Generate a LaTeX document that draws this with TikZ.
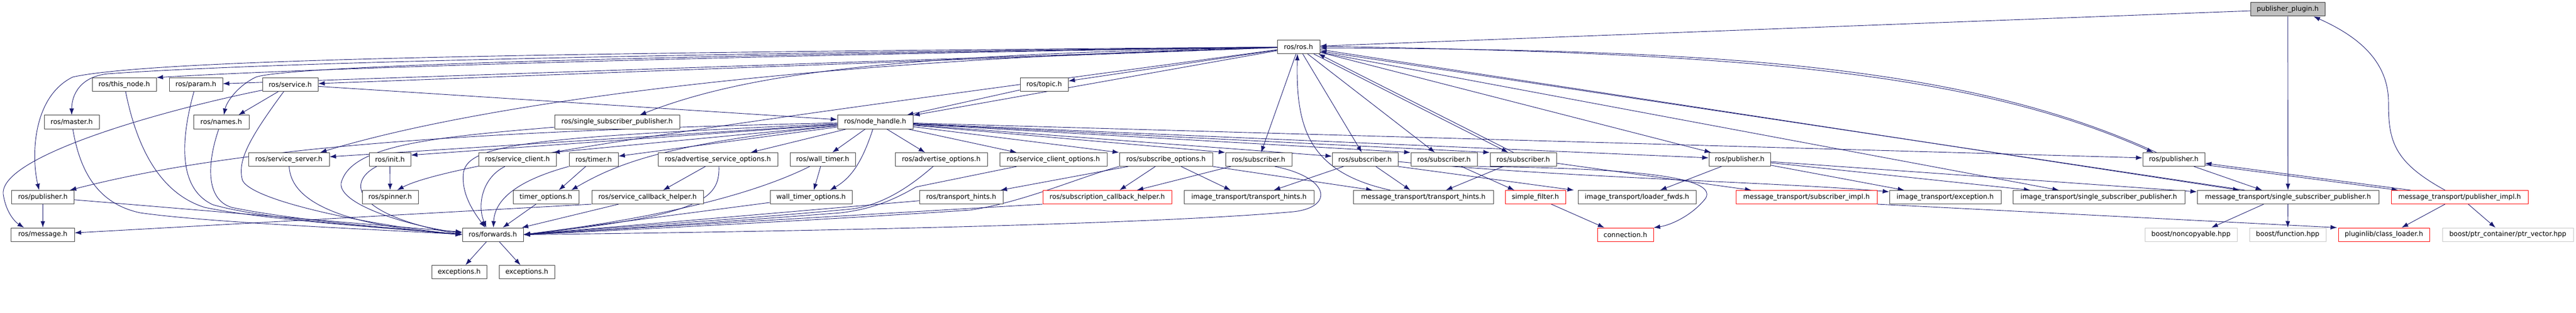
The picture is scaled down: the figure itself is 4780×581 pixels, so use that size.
\documentclass[tikz,border=0pt]{standalone}
\usepackage{fontspec}
\setmainfont{DejaVu Sans}
\usetikzlibrary{arrows.meta}
\definecolor{edgeblue}{HTML}{191970}
\definecolor{boxgray}{HTML}{BFBFBF}
\pgfdeclarelayer{edges}
\pgfsetlayers{edges,main}
\tikzset{
  incl/.style={draw=black!75, fill=white, line width=1bp, minimum height=25bp, inner sep=0pt, font=\fontsize{12.5bp}{15bp}\selectfont},
  broken/.style={incl, draw=red},
  extern/.style={incl, draw=black!22},
  root/.style={incl, draw=black!80, fill=boxgray},
  dep/.style={->, draw=edgeblue, line width=0.9bp},
}
\begin{document}
\begin{tikzpicture}[x=1bp,y=-1bp,>={Latex[length=12bp,width=8.5bp]},line join=bevel]
\useasboundingbox (0,0) rectangle (4780,581);
%% nodes
% Node: plugin
\node[root, minimum width=138bp] (plugin) at (4245,17.5) {publisher\_plugin.h};
% Node: ros
\node[incl, minimum width=79bp] (ros) at (2409.5,87) {ros/ros.h};
% Node: thisnode
\node[incl, minimum width=119bp] (thisnode) at (230.5,157) {ros/this\_node.h};
% Node: param
\node[incl, minimum width=99bp] (param) at (363.5,157) {ros/param.h};
% Node: service
\node[incl, minimum width=103bp] (service) at (538.5,157) {ros/service.h};
% Node: topic
\node[incl, minimum width=89bp] (topic) at (1937.5,157) {ros/topic.h};
% Node: master
\node[incl, minimum width=102bp] (master) at (133,226.5) {ros/master.h};
% Node: names
\node[incl, minimum width=103bp] (names) at (410.5,226.5) {ros/names.h};
% Node: sspros
\node[incl, minimum width=232bp] (sspros) at (1145,226.5) {ros/single\_subscriber\_publisher.h};
% Node: nodehandle
\node[incl, minimum width=140bp] (nodehandle) at (1624,226.5) {ros/node\_handle.h};
% Node: srvserver
\node[incl, minimum width=150bp] (srvserver) at (536,296) {ros/service\_server.h};
% Node: init
\node[incl, minimum width=77bp] (init) at (723.5,296) {ros/init.h};
% Node: srvclient
\node[incl, minimum width=144bp] (srvclient) at (960,296) {ros/service\_client.h};
% Node: timer
\node[incl, minimum width=91bp] (timer) at (1101.5,296) {ros/timer.h};
% Node: advsrvopt
\node[incl, minimum width=222bp] (advsrvopt) at (1332,296) {ros/advertise\_service\_options.h};
% Node: walltimer
\node[incl, minimum width=121bp] (walltimer) at (1526.5,296) {ros/wall\_timer.h};
% Node: advopt
\node[incl, minimum width=171bp] (advopt) at (1746.5,296) {ros/advertise\_options.h};
% Node: srvclientopt
\node[incl, minimum width=199bp] (srvclientopt) at (1954.5,296) {ros/service\_client\_options.h};
% Node: subopt
\node[incl, minimum width=173bp] (subopt) at (2163.5,296) {ros/subscribe\_options.h};
% Node: subA
\node[incl, minimum width=123bp] (subA) at (2335.5,296) {ros/subscriber.h};
% Node: subB
\node[incl, minimum width=122bp] (subB) at (2533,296) {ros/subscriber.h};
% Node: subC
\node[incl, minimum width=123bp] (subC) at (2679.5,296) {ros/subscriber.h};
% Node: subD
\node[incl, minimum width=123bp] (subD) at (2826.5,296) {ros/subscriber.h};
% Node: pubB
\node[incl, minimum width=114bp] (pubB) at (3228,296) {ros/publisher.h};
% Node: pubC
\node[incl, minimum width=115bp] (pubC) at (4033.5,296) {ros/publisher.h};
% Node: pubA
\node[incl, minimum width=115bp] (pubA) at (79.5,366) {ros/publisher.h};
% Node: spinner
\node[incl, minimum width=104bp] (spinner) at (724,366) {ros/spinner.h};
% Node: timeropt
\node[incl, minimum width=122bp] (timeropt) at (1013,366) {timer\_options.h};
% Node: srvcbhelper
\node[incl, minimum width=207bp] (srvcbhelper) at (1201.5,366) {ros/service\_callback\_helper.h};
% Node: walltimeropt
\node[incl, minimum width=152bp] (walltimeropt) at (1505,366) {wall\_timer\_options.h};
% Node: transhints
\node[incl, minimum width=155bp] (transhints) at (1783.5,366) {ros/transport\_hints.h};
% Node: subcbhelper
\node[broken, minimum width=239bp] (subcbhelper) at (2054.5,366) {ros/subscription\_callback\_helper.h};
% Node: ithints
\node[incl, minimum width=241bp] (ithints) at (2317.5,366) {image\_transport/transport\_hints.h};
% Node: mthints
\node[incl, minimum width=260bp] (mthints) at (2641,366) {message\_transport/transport\_hints.h};
% Node: simplefilter
\node[broken, minimum width=112bp] (simplefilter) at (2849,366) {simple\_filter.h};
% Node: loaderfwds
\node[incl, minimum width=219bp] (loaderfwds) at (3037.5,366) {image\_transport/loader\_fwds.h};
% Node: subimpl
\node[broken, minimum width=262bp] (subimpl) at (3352,366) {message\_transport/subscriber\_impl.h};
% Node: itexc
\node[incl, minimum width=207bp] (itexc) at (3609.5,366) {image\_transport/exception.h};
% Node: itssp
\node[incl, minimum width=319bp] (itssp) at (3894.5,366) {image\_transport/single\_subscriber\_publisher.h};
% Node: mtssp
\node[incl, minimum width=337bp] (mtssp) at (4245.5,366) {message\_transport/single\_subscriber\_publisher.h};
% Node: pubimpl
\node[broken, minimum width=254bp] (pubimpl) at (4564,366) {message\_transport/publisher\_impl.h};
% Node: message
\node[incl, minimum width=117bp] (message) at (79.5,435.5) {ros/message.h};
% Node: forwards
\node[incl, minimum width=113bp] (forwards) at (914.5,435.5) {ros/forwards.h};
% Node: connection
\node[broken, minimum width=104bp] (connection) at (3016,435.5) {connection.h};
% Node: noncopy
\node[extern, minimum width=171bp] (noncopy) at (4065.5,435.5) {boost/noncopyable.hpp};
% Node: function
\node[extern, minimum width=142bp] (function) at (4245,435.5) {boost/function.hpp};
% Node: classloader
\node[broken, minimum width=169bp] (classloader) at (4423.5,435.5) {pluginlib/class\_loader.h};
% Node: ptrvec
\node[extern, minimum width=243bp] (ptrvec) at (4653.5,435.5) {boost/ptr\_container/ptr\_vector.hpp};
% Node: excA
\node[incl, minimum width=102bp] (excA) at (852,505) {exceptions.h};
% Node: excB
\node[incl, minimum width=103bp] (excB) at (977.5,505) {exceptions.h};
%% edges
\begin{pgfonlayer}{edges}
% Edge: plugin -> ros
\draw[dep] (plugin) -- (ros);
% Edge: plugin -> mtssp
\draw[dep] (plugin) -- (mtssp);
% Edge: pubimpl -> plugin
\draw[dep] ([xshift=-27bp]pubimpl.north) .. controls (4440,300) and (4432,260) .. (4432,190) .. controls (4432,110) and (4370,65) .. ([xshift=48bp]plugin.south);
% Edge: ros -> thisnode
\draw[dep] (ros) .. controls (1500,100) and (600,125) .. (thisnode.north east);
% Edge: ros -> param
\draw[dep] (ros) -- (param);
% Edge: ros -> master
\draw[dep] (ros) .. controls (1200,100) and (500,116) .. (200,137) .. controls (150,142) and (133,175) .. (master);
% Edge: ros -> pubA
\draw[dep] (ros) .. controls (1200,97) and (300,106) .. (135,143) .. controls (60,180) and (58,290) .. ([xshift=-7bp]pubA.north);
% Edge: ros -> service
\draw[dep] (ros) -- (service);
% Edge: ros -> names
\draw[dep] (ros) .. controls (1200,103) and (540,122) .. (475,143) .. controls (440,160) and (420,190) .. ([xshift=5bp]names.north);
% Edge: ros -> topic
\draw[dep] (ros) -- (topic);
% Edge: ros -> nodehandle
\draw[dep] (ros) -- (nodehandle);
% Edge: ros -> sspros
\draw[dep] (ros) .. controls (1700,100) and (1400,130) .. ([xshift=42bp]sspros.north);
% Edge: ros -> srvserver
\draw[dep] (ros) .. controls (1500,110) and (900,190) .. ([xshift=58bp]srvserver.north);
% Edge: ros -> spinner
\draw[dep] (ros) .. controls (1600,197) and (850,292) .. ([xshift=13bp]spinner.north);
% Edge: ros -> subA
\draw[dep] (ros) -- (subA);
% Edge: ros -> subB
\draw[dep] (ros) -- ([xshift=-6bp]subB.north);
% Edge: ros -> subC
\draw[dep] (ros) -- ([xshift=-17bp]subC.north);
% Edge: ros -> subD
\draw[dep] ([xshift=-12bp]ros.south east) -- ([xshift=-28bp]subD.north);
% Edge: subD -> ros
\draw[dep] ([xshift=-18bp]subD.north) -- ([xshift=-3bp]ros.south east);
% Edge: ros -> pubB
\draw[dep] (ros) -- ([xshift=-53bp]pubB.north);
% Edge: ros -> pubC
\draw[dep] ([yshift=1bp]ros.east) .. controls (3200,98) and (3650,128) .. ([xshift=-38bp]pubC.north);
% Edge: pubC -> ros
\draw[dep] ([xshift=-32bp]pubC.north) .. controls (3650,122) and (3200,92) .. ([yshift=-2bp]ros.east);
% Edge: ros -> mtssp
\draw[dep] ([yshift=-5bp]ros.east) -- ([xshift=-90bp]mtssp.north);
% Edge: mtssp -> ros
\draw[dep] ([xshift=-80bp]mtssp.north) -- ([yshift=-8bp]ros.east);
% Edge: ros -> itssp
\draw[dep] ([yshift=-10bp]ros.east) -- ([xshift=-74bp]itssp.north);
% Edge: mthints -> ros
\draw[dep] ([xshift=-61bp]mthints.north) .. controls (2430,320) and (2404,240) .. ([xshift=-2bp]ros.south);
% Edge: service -> names
\draw[dep] (service) -- ([xshift=32bp]names.north);
% Edge: service -> message
\draw[dep] (service) .. controls (300,205) and (0,290) .. (6,360) .. controls (10,390) and (25,410) .. ([xshift=-35bp]message.north);
% Edge: service -> forwards
\draw[dep] ([xshift=-12bp]service.south) .. controls (460,260) and (440,300) .. (450,335) .. controls (470,375) and (700,420) .. (forwards.west);
% Edge: service -> nodehandle
\draw[dep] (service) -- (nodehandle);
% Edge: topic -> nodehandle
\draw[dep] (topic) -- (nodehandle);
% Edge: nodehandle -> pubA
\draw[dep] (nodehandle) .. controls (900,243) and (450,270) .. ([xshift=-8bp]pubA.north east);
% Edge: nodehandle -> srvserver
\draw[dep] (nodehandle) -- ([yshift=5bp]srvserver.east);
% Edge: nodehandle -> init
\draw[dep] (nodehandle) -- ([yshift=8bp]init.east);
% Edge: nodehandle -> srvclient
\draw[dep] (nodehandle) -- ([xshift=-6bp]srvclient.north east);
% Edge: nodehandle -> timer
\draw[dep] (nodehandle) -- (timer);
% Edge: nodehandle -> timeropt
\draw[dep] (nodehandle) .. controls (1250,265) and (1150,300) .. ([xshift=47bp]timeropt.north);
% Edge: nodehandle -> forwards
\draw[dep] (nodehandle) .. controls (1000,255) and (870,265) .. (860,320) .. controls (855,360) and (880,395) .. ([xshift=-14bp]forwards.north);
% Edge: nodehandle -> advsrvopt
\draw[dep] (nodehandle) -- ([xshift=61bp]advsrvopt.north);
% Edge: nodehandle -> walltimer
\draw[dep] (nodehandle) -- ([xshift=18bp]walltimer.north);
% Edge: nodehandle -> walltimeropt
\draw[dep] (nodehandle) .. controls (1600,300) and (1580,330) .. ([xshift=35bp]walltimeropt.north);
% Edge: nodehandle -> advopt
\draw[dep] (nodehandle) -- ([xshift=-30bp]advopt.north);
% Edge: nodehandle -> srvclientopt
\draw[dep] (nodehandle) -- ([xshift=-68bp]srvclientopt.north);
% Edge: nodehandle -> subopt
\draw[dep] (nodehandle) -- (subopt.north west);
% Edge: nodehandle -> subA
\draw[dep] (nodehandle) -- (subA.north west);
% Edge: nodehandle -> subB
\draw[dep] (nodehandle) -- ([yshift=6bp]subB.west);
% Edge: nodehandle -> subC
\draw[dep] (nodehandle) -- (subC.north west);
% Edge: nodehandle -> subD
\draw[dep] (nodehandle) -- (subD.north west);
% Edge: nodehandle -> pubB
\draw[dep] (nodehandle) -- ([yshift=3bp]pubB.west);
% Edge: nodehandle -> pubC
\draw[dep] (nodehandle) -- ([yshift=3bp]pubC.west);
% Edge: thisnode -> forwards
\draw[dep] (thisnode) .. controls (255,280) and (300,360) .. (380,385) .. controls (500,410) and (750,425) .. (forwards.west);
% Edge: param -> forwards
\draw[dep] (param) .. controls (335,260) and (330,350) .. (395,380) .. controls (500,410) and (750,425) .. (forwards.west);
% Edge: master -> forwards
\draw[dep] (master) .. controls (150,330) and (190,380) .. (260,395) .. controls (400,415) and (750,428) .. (forwards.west);
% Edge: names -> forwards
\draw[dep] (names) .. controls (385,300) and (380,370) .. (430,385) .. controls (550,410) and (750,425) .. (forwards.west);
% Edge: sspros -> forwards
\draw[dep] (sspros) .. controls (800,255) and (650,270) .. (633,340) .. controls (628,380) and (760,420) .. ([yshift=3bp]forwards.west);
% Edge: pubA -> forwards
\draw[dep] (pubA) -- (forwards);
% Edge: pubA -> message
\draw[dep] (pubA) -- (message);
% Edge: srvserver -> forwards
\draw[dep] (srvserver) .. controls (540,380) and (650,420) .. (forwards.west);
% Edge: init -> forwards
\draw[dep] (init) .. controls (640,340) and (660,400) .. (forwards.west);
% Edge: init -> spinner
\draw[dep] (init) -- (spinner);
% Edge: srvclient -> forwards
\draw[dep] ([xshift=-23bp]srvclient.south) .. controls (895,330) and (885,380) .. ([xshift=-12bp]forwards.north);
% Edge: timer -> forwards
\draw[dep] (timer.south west) .. controls (960,335) and (918,370) .. ([xshift=1bp]forwards.north);
% Edge: timer -> timeropt
\draw[dep] (timer) -- ([xshift=24bp]timeropt.north);
% Edge: timeropt -> forwards
\draw[dep] (timeropt) -- (forwards);
% Edge: srvcbhelper -> forwards
\draw[dep] (srvcbhelper) -- (forwards);
% Edge: srvcbhelper -> message
\draw[dep] (srvcbhelper.south west) -- (message);
% Edge: advsrvopt -> srvcbhelper
\draw[dep] (advsrvopt) -- ([xshift=29bp]srvcbhelper.north);
% Edge: advsrvopt -> forwards
\draw[dep] ([xshift=2bp]advsrvopt.south) .. controls (1336,370) and (1300,400) .. (forwards.east);
% Edge: walltimer -> walltimeropt
\draw[dep] (walltimer) -- ([xshift=5bp]walltimeropt.north);
% Edge: walltimer -> forwards
\draw[dep] ([xshift=-24bp]walltimer.south) .. controls (1440,340) and (1300,395) .. (forwards.east);
% Edge: walltimeropt -> forwards
\draw[dep] (walltimeropt) -- (forwards.east);
% Edge: advopt -> forwards
\draw[dep] (advopt) .. controls (1690,345) and (1640,380) .. (1580,388) .. controls (1400,405) and (1100,425) .. (forwards.east);
% Edge: srvclientopt -> forwards
\draw[dep] ([xshift=-68bp]srvclientopt.south) -- (1700,347) .. controls (1660,370) and (1620,388) .. (1560,395) .. controls (1300,415) and (1100,428) .. (forwards.east);
% Edge: transhints -> forwards
\draw[dep] (transhints) -- (forwards.east);
% Edge: subcbhelper -> forwards
\draw[dep] (subcbhelper.south west) -- (forwards.east);
% Edge: subopt -> transhints
\draw[dep] (subopt) -- ([xshift=-5bp]transhints.north east);
% Edge: subopt -> forwards
\draw[dep] (subopt.south west) .. controls (2000,330) and (1900,375) .. (1800,390) .. controls (1500,410) and (1100,430) .. (forwards.east);
% Edge: subopt -> subcbhelper
\draw[dep] (subopt) -- ([xshift=23bp]subcbhelper.north);
% Edge: subopt -> ithints
\draw[dep] ([xshift=28bp]subopt.south) -- ([xshift=-34bp]ithints.north);
% Edge: subopt -> mthints
\draw[dep] (subopt.south east) -- ([xshift=-94bp]mthints.north);
% Edge: subA -> subcbhelper
\draw[dep] (subA) -- ([xshift=55bp]subcbhelper.north);
% Edge: subA -> forwards
\draw[dep] ([xshift=30bp]subA.south) .. controls (2470,330) and (2475,385) .. (2400,393) .. controls (2100,420) and (1300,432) .. (forwards.east);
% Edge: subB -> ithints
\draw[dep] ([xshift=-40bp]subB.south) -- ([xshift=46bp]ithints.north);
% Edge: subB -> mthints
\draw[dep] ([xshift=20bp]subB.south) -- ([xshift=-24bp]mthints.north);
% Edge: subB -> loaderfwds
\draw[dep] (subB.south east) -- ([xshift=-117bp]loaderfwds.north);
% Edge: subB -> itexc
\draw[dep] ([yshift=-4bp]subB.east) .. controls (2900,330) and (3300,338) .. ([yshift=-3bp]itexc.north west);
% Edge: subC -> simplefilter
\draw[dep] ([xshift=32bp]subC.south) -- ([xshift=-39bp]simplefilter.north);
% Edge: subC -> connection
\draw[dep] (subC.south east) .. controls (3000,312) and (3190,325) .. (3165,368) .. controls (3140,400) and (3100,418) .. (connection.north east);
% Edge: subD -> mthints
\draw[dep] ([xshift=-37bp]subD.south) -- ([xshift=42bp]mthints.north);
% Edge: subD -> subimpl
\draw[dep] ([yshift=-7bp]subD.east) -- ([xshift=-102bp]subimpl.north);
% Edge: pubB -> loaderfwds
\draw[dep] (pubB) -- ([xshift=43bp]loaderfwds.north);
% Edge: pubB -> itexc
\draw[dep] (pubB) -- ([xshift=-76bp]itexc.north);
% Edge: pubB -> itssp
\draw[dep] (pubB) -- ([xshift=-127bp]itssp.north);
% Edge: pubB -> mtssp
\draw[dep] (pubB) -- ([yshift=-3bp]mtssp.north west);
% Edge: pubC -> mtssp
\draw[dep] (pubC) -- ([xshift=-48bp]mtssp.north);
% Edge: pubimpl -> pubC
\draw[dep] ([xshift=-91bp]pubimpl.north) -- ([yshift=-7bp]pubC.east);
% Edge: pubC -> pubimpl
\draw[dep] ([yshift=-10bp]pubC.east) -- ([xshift=-114bp]pubimpl.north);
% Edge: pubimpl -> classloader
\draw[dep] ([xshift=-27bp]pubimpl.south) -- ([xshift=33bp]classloader.north);
% Edge: pubimpl -> ptrvec
\draw[dep] ([xshift=16bp]pubimpl.south) -- ([xshift=-23bp]ptrvec.north);
% Edge: subimpl -> classloader
\draw[dep] (subimpl.south east) -- ([xshift=-2bp]classloader.north west);
% Edge: mtssp -> noncopy
\draw[dep] ([xshift=-45bp]mtssp.south) -- ([xshift=38bp]noncopy.north);
% Edge: mtssp -> function
\draw[dep] (mtssp) -- (function);
% Edge: simplefilter -> connection
\draw[dep] (simplefilter) -- ([xshift=-39bp]connection.north);
% Edge: forwards -> excA
\draw[dep] (forwards) -- (excA);
% Edge: forwards -> excB
\draw[dep] (forwards) -- (excB);
\end{pgfonlayer}
\end{tikzpicture}
\end{document}
